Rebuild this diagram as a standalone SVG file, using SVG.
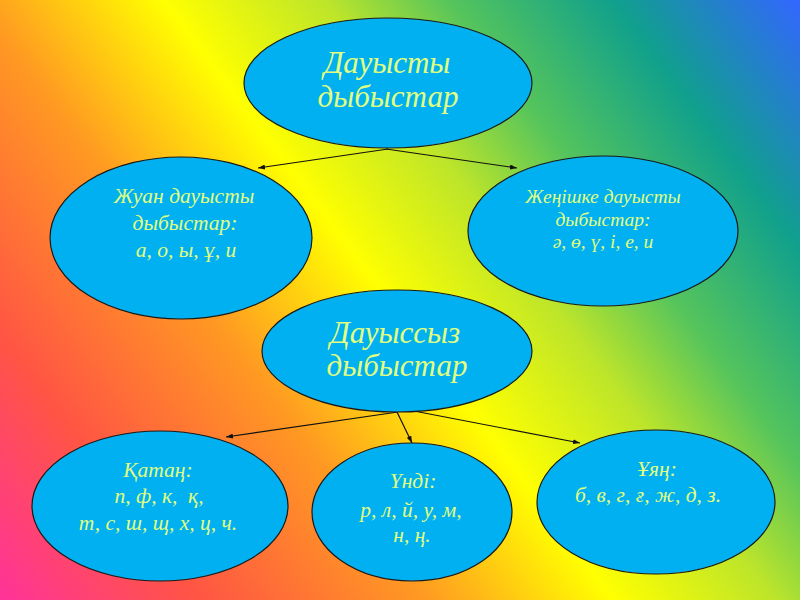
<svg xmlns="http://www.w3.org/2000/svg" width="800" height="600" viewBox="0 0 800 600">
<defs>
<linearGradient id="bg" gradientUnits="userSpaceOnUse" x1="0" y1="600" x2="800" y2="0">
<stop offset="0" stop-color="#ff3399"/>
<stop offset="0.16" stop-color="#ff5544"/>
<stop offset="0.34" stop-color="#ff9922"/>
<stop offset="0.49" stop-color="#ffff00"/>
<stop offset="0.62" stop-color="#bde52a"/>
<stop offset="0.72" stop-color="#55c45c"/>
<stop offset="0.85" stop-color="#10a08c"/>
<stop offset="1" stop-color="#3366ff"/>
</linearGradient>
<marker id="arr" viewBox="0 0 10 10" refX="10" refY="5" markerWidth="7" markerHeight="5" markerUnits="userSpaceOnUse" orient="auto" preserveAspectRatio="none">
<path d="M0,0 L10,5 L0,10 z" fill="#111"/>
</marker>
</defs>
<style>
.node ellipse{fill:#00b0f0;stroke:#1a1a1a;stroke-width:1.2}
.t{font-family:"Liberation Serif","DejaVu Serif",serif;font-style:italic;fill:#e2ff80;text-anchor:middle}
.big{font-size:31px}
.mid{font-size:21.5px}
.sm{font-size:19.5px}
.conn line{stroke:#111;stroke-width:1.2;marker-end:url(#arr)}
</style>
<rect x="0" y="0" width="800" height="600" fill="url(#bg)"/>
<g id="connectors" class="conn">
<line x1="388" y1="149" x2="258" y2="168"/>
<line x1="386" y1="149" x2="517" y2="168"/>
<line x1="398" y1="412" x2="226" y2="437"/>
<line x1="397" y1="412" x2="412" y2="443"/>
<line x1="388" y1="406" x2="580" y2="443"/>
</g>
<g id="vowels" class="node">
<ellipse cx="388" cy="83" rx="144" ry="65"/>
<text class="t big" x="387" y="73">Дауысты</text>
<text class="t big" x="388" y="107">дыбыстар</text>
</g>
<g id="back-vowels" class="node">
<ellipse cx="181" cy="238" rx="131" ry="81"/>
<text class="t mid" x="184" y="203">Жуан дауысты</text>
<text class="t mid" x="185" y="230">дыбыстар:</text>
<text class="t mid" x="186" y="257">а, о, ы, ұ, и</text>
</g>
<g id="front-vowels" class="node">
<ellipse cx="603" cy="231" rx="135" ry="75"/>
<text class="t sm" x="603" y="203">Жеңішке дауысты</text>
<text class="t sm" x="603" y="226">дыбыстар:</text>
<text class="t sm" x="603" y="248">ә, ө, ү, і, е, и</text>
</g>
<g id="consonants" class="node">
<ellipse cx="397" cy="351" rx="135" ry="61"/>
<text class="t big" x="395" y="343">Дауыссыз</text>
<text class="t big" x="397" y="376">дыбыстар</text>
</g>
<g id="voiceless" class="node">
<ellipse cx="160" cy="506" rx="128" ry="75"/>
<text class="t mid" x="158" y="477">Қатаң:</text>
<text class="t mid" x="159" y="503">п, ф, к, &#160;қ,</text>
<text class="t mid" x="158" y="530">т, с, ш, щ, х, ц, ч.</text>
</g>
<g id="sonorant" class="node">
<ellipse cx="412" cy="512" rx="100" ry="69"/>
<text class="t mid" x="413" y="488">Үнді:</text>
<text class="t mid" x="411" y="517">р, л, й, у, м,</text>
<text class="t mid" x="412" y="542">н, ң.</text>
</g>
<g id="voiced" class="node">
<ellipse cx="656" cy="502" rx="119" ry="72"/>
<text class="t mid" x="657" y="476">Ұяң:</text>
<text class="t mid" x="648" y="502">б, в, г, ғ, ж, д, з.</text>
</g>
</svg>
